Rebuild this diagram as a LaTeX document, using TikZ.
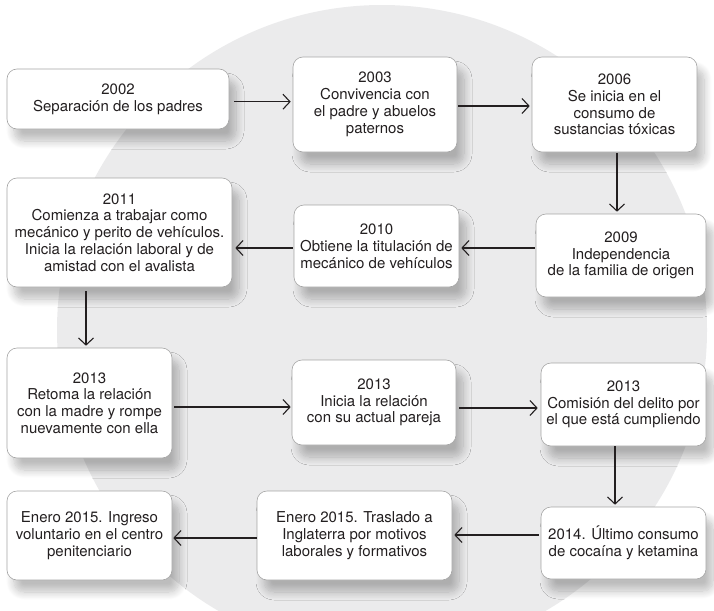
\documentclass[tikz,border=0pt]{standalone}
\usepackage{fontspec}
\setmainfont{TeX Gyre Heros}
\usetikzlibrary{arrows.meta,calc,shadows.blur}
\definecolor{ink}{RGB}{35,31,32}
\definecolor{disc}{RGB}{235,235,236}
\definecolor{edge}{RGB}{165,165,165}
\tikzset{
  event/.style={draw=edge, line width=0.6pt, fill=white, rounded corners=10pt,
    inner sep=0pt, align=center, text=ink,
    font=\fontsize{15}{16.8}\selectfont,
    blur shadow={shadow xshift=7pt, shadow yshift=-12pt, shadow blur radius=8pt,
      shadow blur steps=12, shadow opacity=26}},
  flow/.style={draw=ink, line width=1.4pt,
    -{Straight Barb[length=7pt,width=15pt,line width=1.1pt]}}
}
\begin{document}
\begin{tikzpicture}[x=1pt,y=-1pt]
\useasboundingbox (0,0) rectangle (714,610);
% background disc
\begin{scope}
  \clip (0,0) rectangle (714,610);
  \fill[disc] (382,330) circle (325);
\end{scope}
% events
\node[event, minimum width=222pt, minimum height=60pt]  (b1)  at (118,99)    {2002\\Separación de los padres};
\node[event, minimum width=164pt, minimum height=95pt]  (b2)  at (375,104.5) {2003\\Convivencia con\\el padre y abuelos\\paternos};
\node[event, minimum width=165pt, minimum height=95pt]  (b3)  at (614.5,104.5) {2006\\Se inicia en el\\consumo de\\sustancias tóxicas};
\node[event, minimum width=170pt, minimum height=83pt]  (b4)  at (621,255.5) {2009\\Independencia\\de la familia de origen};
\node[event, minimum width=165pt, minimum height=82pt]  (b5)  at (376.5,246) {2010\\Obtiene la titulación de\\mecánico de vehículos};
\node[event, minimum width=225pt, minimum height=109pt] (b6)  at (119.5,232.5) {2011\\Comienza a trabajar como\\mecánico y perito de vehículos.\\Inicia la relación laboral y de\\amistad con el avalista};
\node[event, minimum width=165pt, minimum height=110pt] (b7)  at (89.5,403) {2013\\Retoma la relación\\con la madre y rompe\\nuevamente con ella};
\node[event, minimum width=164pt, minimum height=85pt]  (b8)  at (374,402.5) {2013\\Inicia la relación\\con su actual pareja};
\node[event, minimum width=165pt, minimum height=83pt]  (b9)  at (623.5,404.5) {2013\\Comisión del delito por\\el que está cumpliendo};
\node[event, minimum width=165pt, minimum height=72pt]  (b10) at (623.5,543) {2014. Último consumo\\de cocaína y ketamina};
\node[event, minimum width=195pt, minimum height=89pt]  (b11) at (354.5,535.5) {Enero 2015. Traslado a\\Inglaterra por motivos\\laborales y formativos};
\node[event, minimum width=165pt, minimum height=89pt]  (b12) at (89.5,535.5) {Enero 2015. Ingreso\\voluntario en el centro\\penitenciario};
% connectors
\draw[flow] ($(b1.east |- 0,101.7)+(5,0)$) -- ($(b2.west |- 0,101.7)+(-2,0)$);
\draw[flow] ($(b2.east |- 0,106)+(1,0)$) -- ($(b3.west |- 0,106)+(-2,0)$);
\draw[flow] ($(b3.south -| 617,0)+(0,1)$) -- ($(b4.north -| 617,0)+(0,-2)$);
\draw[flow] ($(b4.west |- 0,248)+(-1,0)$) -- ($(b5.east |- 0,248)+(2,0)$);
\draw[flow] ($(b5.west |- 0,248)+(-1,0)$) -- ($(b6.east |- 0,248)+(3,0)$);
\draw[flow] ($(b6.south -| 86,0)+(0,4)$) -- ($(b7.north -| 86,0)+(0,-2)$);
\draw[flow] ($(b7.east |- 0,407)+(2,0)$) -- ($(b8.west |- 0,407)+(-1,0)$);
\draw[flow] ($(b8.east |- 0,408)+(3,0)$) -- ($(b9.west |- 0,408)+(-3,0)$);
\draw[flow] ($(b9.south -| 615,0)+(0,0)$) -- ($(b10.north -| 615,0)+(0,-2)$);
\draw[flow] ($(b10.west |- 0,535)+(-2,0)$) -- ($(b11.east |- 0,535)+(2,0)$);
\draw[flow] ($(b11.west |- 0,538)+(0,0)$) -- ($(b12.east |- 0,538)+(1,0)$);
\end{tikzpicture}
\end{document}
